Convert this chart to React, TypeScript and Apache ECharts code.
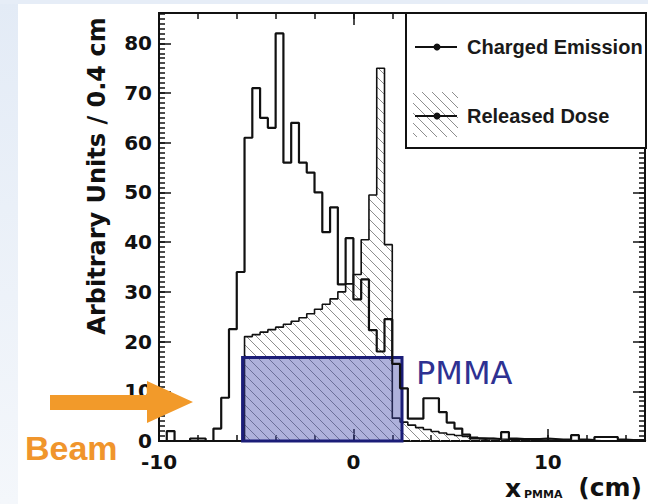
import React, { useEffect, useRef } from "react";
import * as echarts from "echarts";

// ---- data ----
const BIN_WIDTH = 0.4; // cm
const X_MIN = -10;
const X_MAX = 15;
const Y_MAX = 86.1;

// Charged emission histogram, bins start at -10 cm, width 0.4 cm
const CHARGED_START = -10;
const chargedEmission = [
  0, 2, 0, 0, 0.5, 0.5, 0, 2.5, 8.7, 22.5,
  34, 61, 71, 65, 63, 82, 56, 64, 56, 54,
  50, 42, 47, 31.5, 40.8, 28.5, 32.5, 22.3, 18, 24.5,
  15.5, 10.6, 4.5, 4.5, 8.6, 8.6, 5.8, 3.7, 2.5, 1.3,
  0.5, 0.4, 0.5, 0.4, 1.8, 0.5, 0.4, 0.4, 0.4, 0.5,
  0.4, 0.3, 0.3, 1.2, 0.3, 0.2, 0.8, 0.8, 0.8, 0.3,
  0.2, 0.2, 0.2,
];

// Released dose histogram, bins start at -5.6 cm, width 0.4 cm
const DOSE_START = -5.6;
const releasedDose = [
  21.0, 21.4, 21.9, 22.4, 22.9, 23.5, 24.1, 24.8, 25.6, 26.5,
  27.5, 28.6, 30.0, 31.6, 33.5, 40.5, 49.5, 75.0, 39.5, 4.6,
  3.8, 3.2, 2.7, 2.3, 1.9, 1.6, 1.3, 1.1, 0.9, 0.75,
  0.6, 0.5, 0.4, 0.35, 0.3, 0.25, 0.2, 0.18, 0.15, 0.12,
  0.1, 0.1, 0.08, 0.08, 0.07, 0.06, 0.06, 0.05, 0.05, 0.05,
  0.05, 0.05,
];

// PMMA target: [x start, x end, drawn height]
const pmmaSlab = [[-5.7, 2.5, 16.8]];

const xTickLabels = [-10, 0, 10];
const yTickLabels = [0, 10, 20, 30, 40, 50, 60, 70, 80];

function toSteps(start: number, values: number[]): number[][] {
  const pts: number[][] = [[start, 0]];
  values.forEach((v, i) => {
    pts.push([Math.min(start + i * BIN_WIDTH, X_MAX), v]);
  });
  const end = Math.min(start + values.length * BIN_WIDTH, X_MAX);
  pts.push([end, values[values.length - 1]]);
  pts.push([end, 0]);
  return pts;
}

function makeHatch(): HTMLCanvasElement {
  const c = document.createElement("canvas");
  const s = 10;
  c.width = s;
  c.height = s;
  const ctx = c.getContext("2d")!;
  ctx.strokeStyle = "#8d8d8d";
  ctx.lineWidth = 1;
  ctx.beginPath();
  ctx.moveTo(-1, -1);
  ctx.lineTo(s + 1, s + 1);
  ctx.moveTo(-1, s - 1);
  ctx.lineTo(1, s + 1);
  ctx.moveTo(s - 1, -1);
  ctx.lineTo(s + 1, 1);
  ctx.stroke();
  return c;
}

const INK = "#111";
const TICK_FONT = "DejaVu Sans";

function xAxisDef(position: string, interval: number, len: number, labels: boolean) {
  return {
    type: "value",
    min: X_MIN,
    max: X_MAX,
    interval,
    position,
    axisLine: { show: false, onZero: false },
    axisTick: { show: true, inside: true, length: len, lineStyle: { color: INK, width: 1.5 } },
    axisLabel: {
      show: labels,
      fontFamily: TICK_FONT,
      fontWeight: "bold",
      fontSize: 20,
      color: INK,
      margin: 11,
      showMaxLabel: false,
      formatter: (v: number) => (xTickLabels.includes(v) ? String(v) : ""),
    },
    splitLine: { show: false },
  };
}

function yAxisDef(position: string, interval: number, len: number, labels: boolean) {
  return {
    type: "value",
    min: 0,
    max: Y_MAX,
    interval,
    position,
    axisLine: { show: false, onZero: false },
    axisTick: { show: true, inside: true, length: len, lineStyle: { color: INK, width: 1.5 } },
    axisLabel: {
      show: labels,
      fontFamily: TICK_FONT,
      fontWeight: "bold",
      fontSize: 20,
      color: INK,
      margin: 7,
      showMaxLabel: false,
      formatter: (v: number) => (yTickLabels.includes(v) ? String(v) : ""),
    },
    splitLine: { show: false },
  };
}

export default function App() {
  const ref = useRef<HTMLDivElement>(null);

  useEffect(() => {
    if (!ref.current) return;
    const chart = echarts.init(ref.current, null, { renderer: "svg" });
    const hatch = makeHatch();
    const hatchPattern: any = { image: hatch, repeat: "repeat", imageWidth: 10, imageHeight: 10 };

    const option: any = {
      animation: false,
      backgroundColor: "#ffffff",
      grid: {
        left: 159,
        top: 13,
        width: 486,
        height: 428,
        show: true,
        borderColor: INK,
        borderWidth: 2,
        backgroundColor: "transparent",
      },
      xAxis: [
        xAxisDef("bottom", 10, 12, true),
        xAxisDef("bottom", 2, 6, false),
        xAxisDef("top", 10, 12, false),
        xAxisDef("top", 2, 6, false),
      ],
      yAxis: [
        yAxisDef("left", 10, 12, true),
        yAxisDef("left", 1, 6, false),
        yAxisDef("right", 10, 12, false),
        yAxisDef("right", 1, 6, false),
      ],
      series: [
        {
          name: "Released Dose",
          type: "line",
          step: "end",
          xAxisIndex: 0,
          yAxisIndex: 0,
          data: toSteps(DOSE_START, releasedDose),
          showSymbol: false,
          symbol: "none",
          lineStyle: { color: INK, width: 1.6 },
          areaStyle: { color: hatchPattern, opacity: 1 },
          z: 2,
        },
        {
          name: "PMMA",
          type: "custom",
          xAxisIndex: 0,
          yAxisIndex: 0,
          data: pmmaSlab,
          encode: { x: [0, 1], y: 2 },
          renderItem: (params: any, api: any) => {
            const p0 = api.coord([api.value(0), api.value(2)]);
            const p1 = api.coord([api.value(1), 0]);
            return {
              type: "rect",
              shape: { x: p0[0], y: p0[1], width: p1[0] - p0[0], height: p1[1] - p0[1] },
              style: { fill: "rgba(62,68,170,0.42)", stroke: "#1b1d78", lineWidth: 3 },
            };
          },
          z: 3,
        },
        {
          name: "Charged Emission",
          type: "line",
          step: "end",
          xAxisIndex: 0,
          yAxisIndex: 0,
          data: toSteps(CHARGED_START, chargedEmission),
          showSymbol: false,
          symbol: "none",
          lineStyle: { color: INK, width: 2.2 },
          z: 4,
        },
      ],
      graphic: [
        // slide background strips
        {
          type: "rect",
          shape: { x: 0, y: 0, width: 18, height: 504 },
          style: {
            fill: new echarts.graphic.LinearGradient(0, 0, 0, 1, [
              { offset: 0, color: "#e3ebf6" },
              { offset: 1, color: "#f4f7fb" },
            ]),
          },
          silent: true,
        },
        {
          type: "rect",
          shape: { x: 0, y: 0, width: 648, height: 4 },
          style: { fill: "#e6edf7" },
          silent: true,
        },
        // y axis title
        {
          type: "text",
          x: 97,
          y: 176,
          rotation: Math.PI / 2,
          style: {
            text: "Arbitrary Units / 0.4 cm",
            font: "bold 24px 'DejaVu Sans'",
            fill: INK,
            align: "center",
            verticalAlign: "middle",
          },
        },
        // x axis title
        {
          type: "text",
          x: 505,
          y: 488,
          style: { text: "x", font: "bold 25px 'DejaVu Sans'", fill: INK, align: "left", verticalAlign: "middle" },
        },
        {
          type: "text",
          x: 524,
          y: 494,
          style: { text: "PMMA", font: "bold 11px 'DejaVu Sans'", fill: INK, align: "left", verticalAlign: "middle" },
        },
        {
          type: "text",
          x: 642,
          y: 487,
          style: { text: "(cm)", font: "bold 25px 'DejaVu Sans'", fill: INK, align: "right", verticalAlign: "middle" },
        },
        // legend box
        {
          type: "rect",
          shape: { x: 406, y: 13, width: 240, height: 135 },
          style: { fill: "#fff", stroke: INK, lineWidth: 2 },
          z: 10,
        },
        {
          type: "line",
          shape: { x1: 415, y1: 47, x2: 457, y2: 47 },
          style: { stroke: INK, lineWidth: 2 },
          z: 11,
        },
        { type: "circle", shape: { cx: 437, cy: 47, r: 3.5 }, style: { fill: INK }, z: 11 },
        {
          type: "text",
          x: 467,
          y: 47,
          style: {
            text: "Charged Emission",
            font: "bold 20px 'Liberation Sans'",
            fill: "#1a1a1a",
            align: "left",
            verticalAlign: "middle",
          },
          z: 11,
        },
        {
          type: "rect",
          shape: { x: 413, y: 92, width: 45, height: 45 },
          style: { fill: hatchPattern },
          z: 11,
        },
        {
          type: "line",
          shape: { x1: 415, y1: 116, x2: 457, y2: 116 },
          style: { stroke: INK, lineWidth: 2 },
          z: 12,
        },
        { type: "circle", shape: { cx: 437, cy: 116, r: 3.5 }, style: { fill: INK }, z: 12 },
        {
          type: "text",
          x: 467,
          y: 116,
          style: {
            text: "Released Dose",
            font: "bold 20px 'Liberation Sans'",
            fill: "#1a1a1a",
            align: "left",
            verticalAlign: "middle",
          },
          z: 11,
        },
        // PMMA label
        {
          type: "text",
          x: 416,
          y: 373,
          style: {
            text: "PMMA",
            font: "32px 'DejaVu Sans'",
            fill: "#2e3192",
            align: "left",
            verticalAlign: "middle",
          },
          z: 10,
        },
        // Beam arrow
        {
          type: "polygon",
          shape: {
            points: [
              [50, 395],
              [147, 395],
              [147, 381],
              [193, 402],
              [147, 423],
              [147, 410],
              [50, 410],
            ],
          },
          style: { fill: "#f29a2a" },
          z: 20,
        },
        {
          type: "text",
          x: 25,
          y: 448,
          style: {
            text: "Beam",
            font: "bold 34px 'Liberation Sans'",
            fill: "#f0952c",
            align: "left",
            verticalAlign: "middle",
          },
          z: 20,
        },
      ],
    };

    chart.setOption(option);
    return () => chart.dispose();
  }, []);

  return (
    <div
      ref={ref}
      style={{ width: 648, height: 504, position: "absolute", left: 0, top: 0 }}
    />
  );
}
